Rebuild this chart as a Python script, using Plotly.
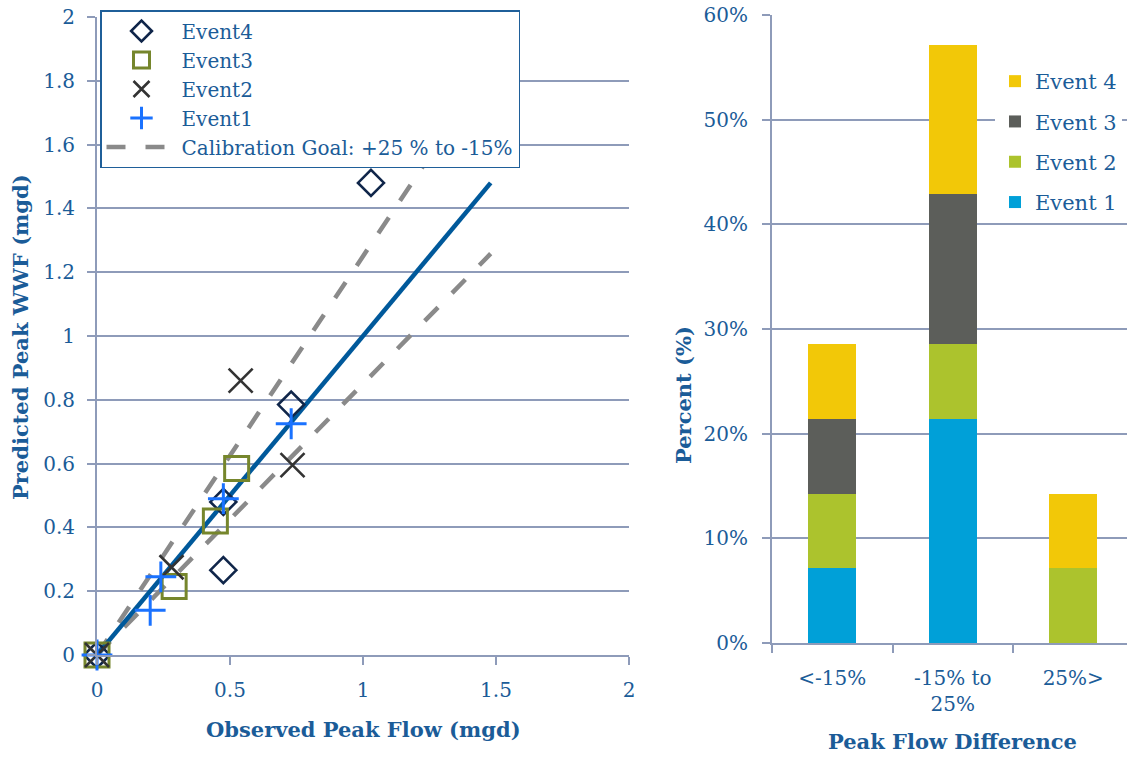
import plotly.graph_objects as go

# ---------------- data ----------------
event4_obs = [1.03, 0.73, 0.475, 0.475, 0.0]
event4_pred = [1.48, 0.785, 0.48, 0.266, 0.0]
event3_obs = [0.525, 0.445, 0.29, 0.0]
event3_pred = [0.585, 0.42, 0.215, 0.0]
event2_obs = [0.54, 0.735, 0.28, 0.0]
event2_pred = [0.86, 0.595, 0.275, 0.0]
event1_obs = [0.73, 0.475, 0.24, 0.2, 0.0]
event1_pred = [0.725, 0.49, 0.245, 0.14, 0.0]

line_x = [0.0, 1.48]          # extent of 1:1 and goal lines
goal_upper = 1.25             # +25 %
goal_lower = 0.85             # -15 %

categories = ["<-15%", "-15% to<br>25%", "25%>"]
bar_event1 = [7.14, 21.43, 0.0]
bar_event2 = [7.14, 7.14, 7.14]
bar_event3 = [7.14, 14.29, 0.0]
bar_event4 = [7.14, 14.29, 7.14]

left_ticks_y = [0, 0.2, 0.4, 0.6, 0.8, 1, 1.2, 1.4, 1.6, 1.8, 2]

# ---------------- styles ----------------
W, H = 1127, 757
TXT = "#1b5c98"
GRID = "#8e9bb9"
FONT = "DejaVu Serif"

fig = go.Figure()

# lines
gx = line_x + [None] + line_x
gy = [v * goal_upper for v in line_x] + [None] + [v * goal_lower for v in line_x]
fig.add_trace(go.Scatter(x=gx, y=gy, mode="lines", name="Calibration Goal: +25 % to -15%",
                         line=dict(color="#8a8a8a", width=4.5, dash="19px,20px"),
                         legend="legend", legendrank=5, xaxis="x", yaxis="y", connectgaps=False))
fig.add_trace(go.Scatter(x=line_x, y=line_x, mode="lines", showlegend=False,
                         line=dict(color="#00599b", width=4.5), xaxis="x", yaxis="y"))

fig.add_trace(go.Scatter(x=event4_obs, y=event4_pred, mode="markers", name="Event4",
                         marker=dict(symbol="diamond-open", size=20, color="#10264a",
                                     line=dict(width=2.6, color="#10264a")),
                         legend="legend", legendrank=1, cliponaxis=False))
fig.add_trace(go.Scatter(x=event3_obs, y=event3_pred, mode="markers", name="Event3",
                         marker=dict(symbol="square-open", size=24, color="#76862c",
                                     line=dict(width=3, color="#76862c")),
                         legend="legend", legendrank=2, cliponaxis=False))
fig.add_trace(go.Scatter(x=event2_obs, y=event2_pred, mode="markers", name="Event2",
                         marker=dict(symbol="x-thin-open", size=24, color="#333333",
                                     line=dict(width=2.6, color="#333333")),
                         legend="legend", legendrank=3, cliponaxis=False))
fig.add_trace(go.Scatter(x=event1_obs, y=event1_pred, mode="markers", name="Event1",
                         marker=dict(symbol="cross-thin-open", size=22, color="#1a72ff",
                                     line=dict(width=3, color="#1a72ff")),
                         legend="legend", legendrank=4, cliponaxis=False))

# bars
for rank, (name, vals, col) in enumerate([("Event 1", bar_event1, "#00a0d8"),
                                          ("Event 2", bar_event2, "#acc32d"),
                                          ("Event 3", bar_event3, "#5c5e5a"),
                                          ("Event 4", bar_event4, "#f2c808")]):
    fig.add_trace(go.Bar(x=categories, y=vals, name=name, marker=dict(color=col, line=dict(width=0)),
                         xaxis="x2", yaxis="y2", legend="legend2", legendgroup=name,
                         legendrank=100 - rank))

x1d = [97 / W, 629 / W]
y1d = [(H - 655) / H, (H - 17) / H]
x2d = [772 / W, 1.0]
y2d = [(H - 643) / H, (H - 15) / H]
catw = 120.5

axis_common = dict(linecolor=GRID, linewidth=2, tickcolor=GRID, tickwidth=2, ticklen=8,
                   ticks="outside", automargin=False, zeroline=False,
                   tickfont=dict(family=FONT, size=20, color=TXT))


def ann(text, x, y, angle=0):
    return dict(text=text, x=x / W, y=1 - y / H, xref="paper", yref="paper", showarrow=False,
                xanchor="center", yanchor="middle", textangle=angle,
                font=dict(family=FONT, size=21, color=TXT))


fig.update_layout(
    width=W, height=H, margin=dict(l=0, r=0, t=0, b=0),
    paper_bgcolor="white", plot_bgcolor="white",
    barmode="stack", bargap=0.6,
    font=dict(family=FONT, color=TXT),
    xaxis=dict(domain=x1d, range=[0, 2], dtick=0.5, showgrid=False, showline=True,
               anchor="y", ticklabelstandoff=8, **axis_common),
    yaxis=dict(domain=y1d, range=[0, 2], tickvals=left_ticks_y, showgrid=True, gridcolor=GRID,
               gridwidth=2, showline=True, anchor="x", ticklabelstandoff=8, **axis_common),
    xaxis2=dict(domain=x2d, range=[-0.5, -0.5 + (W - 772) / catw], type="category",
                tickson="boundaries", showgrid=False, showline=True, anchor="y2",
                ticklabelstandoff=16, **axis_common),
    yaxis2=dict(domain=y2d, range=[0, 60], dtick=10, ticksuffix="%", showgrid=True,
                gridcolor=GRID, gridwidth=2, showline=True, anchor="x2",
                ticklabelstandoff=10, **axis_common),
    legend=dict(x=100 / W, y=1 - 10 / H, xanchor="left", yanchor="top",
                bgcolor="white", bordercolor="#1f5f99", borderwidth=1.5,
                font=dict(family=FONT, size=20, color=TXT), tracegroupgap=0,
                itemwidth=70, traceorder="normal"),
    legend2=dict(x=995 / W, y=1 - 61 / H, xanchor="left", yanchor="top",
                 bgcolor="white", borderwidth=0, traceorder="grouped",
                 tracegroupgap=10,
                 font=dict(family=FONT, size=21, color=TXT), itemwidth=30),
    annotations=[
        ann("<b>Observed Peak Flow (mgd)</b>", 363, 729),
        ann("<b>Predicted Peak WWF (mgd)</b>", 20, 337, -90),
        ann("<b>Peak Flow Difference</b>", 952, 741),
        ann("<b>Percent (%)</b>", 683, 395, -90),
    ],
)

fig.write_html("out.html", config={"displayModeBar": False},
               post_script="document.body.style.margin='0px';")
